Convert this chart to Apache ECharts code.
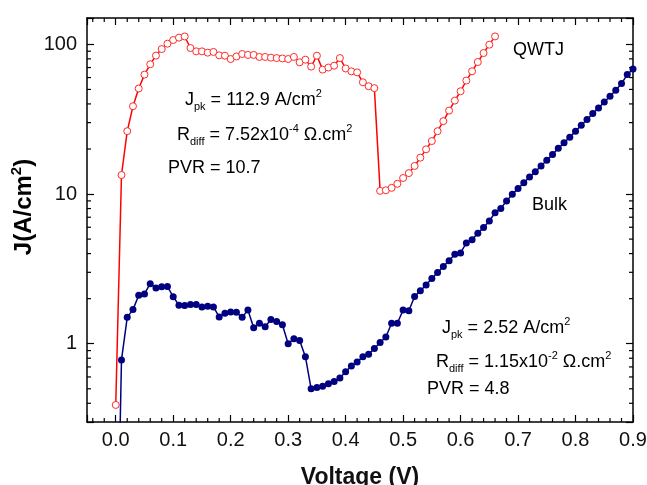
<!DOCTYPE html>
<html>
<head>
<meta charset="utf-8">
<script src="https://cdn.jsdelivr.net/npm/echarts@6/dist/echarts.min.js"></script>
<style>
  html, body { margin: 0; padding: 0; background: #fff; }
  #chart { width: 647px; height: 485px; }
</style>
</head>
<body>
<div id="chart"></div>
<script>
const voltage = [
  0.00, 0.01, 0.02, 0.03, 0.04, 0.05, 0.06, 0.07, 0.08, 0.09,
  0.10, 0.11, 0.12, 0.13, 0.14, 0.15, 0.16, 0.17, 0.18, 0.19,
  0.20, 0.21, 0.22, 0.23, 0.24, 0.25, 0.26, 0.27, 0.28, 0.29,
  0.30, 0.31, 0.32, 0.33, 0.34, 0.35, 0.36, 0.37, 0.38, 0.39,
  0.40, 0.41, 0.42, 0.43, 0.44, 0.45, 0.46, 0.47, 0.48, 0.49,
  0.50, 0.51, 0.52, 0.53, 0.54, 0.55, 0.56, 0.57, 0.58, 0.59,
  0.60, 0.61, 0.62, 0.63, 0.64, 0.65, 0.66, 0.67, 0.68, 0.69,
  0.70, 0.71, 0.72, 0.73, 0.74, 0.75, 0.76, 0.77, 0.78, 0.79,
  0.80, 0.81, 0.82, 0.83, 0.84, 0.85, 0.86, 0.87, 0.88, 0.89,
  0.90
];

// QWTJ current density (A/cm2), 0.00 .. 0.66 V
const qwtj = [
  0.39, 13.4, 26.3, 38.6, 50.7, 62.8, 73.6, 84.1, 93.0, 101,
  106.9, 110.9, 112.9, 94.5, 89.8, 89.8, 88, 89, 84.5, 84,
  79.8, 83, 86.2, 85, 85, 82.4, 82.4, 81.5, 81, 80.5,
  79.8, 82.4, 75.9, 79, 71, 84, 67.8, 70, 72, 81,
  69, 66, 65, 55.8, 52.5, 51, 10.5, 10.6, 11.0, 11.7,
  12.8, 13.8, 15.4, 17.5, 19.9, 22.6, 26.3, 30.7, 36.1, 42.1,
  48.6, 57.3, 66.1, 76.2, 87.5, 99.5, 113
];

// Bulk current density (A/cm2), 0.00 .. 0.90 V
const bulk = [
  0.01, 0.78, 1.50, 1.69, 2.11, 2.15, 2.52, 2.36, 2.40, 2.41,
  2.06, 1.81, 1.80, 1.83, 1.83, 1.76, 1.78, 1.76, 1.51, 1.60,
  1.63, 1.62, 1.50, 1.68, 1.28, 1.37, 1.30, 1.45, 1.41, 1.34,
  1.00, 1.08, 1.05, 0.82, 0.50, 0.51, 0.52, 0.54, 0.56, 0.59,
  0.65, 0.71, 0.755, 0.82, 0.85, 0.93, 1.02, 1.11, 1.37, 1.37,
  1.68, 1.66, 2.07, 2.26, 2.47, 2.73, 2.99, 3.28, 3.59, 3.96,
  4.04, 4.71, 4.96, 5.47, 5.97, 6.61, 7.5, 8.0, 9.0, 9.95,
  10.9, 11.9, 13.0, 14.1, 15.4, 16.8, 18.4, 20.2, 22.0, 24.0,
  26.3, 28.8, 31.5, 34.5, 37.6, 41.2, 45.0, 49.3, 54.7, 62.8,
  68.4
];

const xMin = -0.05, xMax = 0.9;
const yMin = 0.3, yMax = 150;
const yMinorTicks = [0.4, 0.5, 0.6, 0.7, 0.8, 0.9, 2, 3, 4, 5, 6, 7, 8, 9,
  20, 30, 40, 50, 60, 70, 80, 90];
const xMinorTicks = [-0.04, -0.02, 0.02, 0.04, 0.06, 0.08, 0.12, 0.14, 0.16, 0.18,
  0.22, 0.24, 0.26, 0.28, 0.32, 0.34, 0.36, 0.38, 0.42, 0.44, 0.46, 0.48,
  0.52, 0.54, 0.56, 0.58, 0.62, 0.64, 0.66, 0.68, 0.72, 0.74, 0.76, 0.78,
  0.82, 0.84, 0.86, 0.88];

const font = "'Liberation Sans', Arial, sans-serif";
const minorLen = 4;

const chart = echarts.init(document.getElementById("chart"));

const pair = (arr) => arr.map((v, i) => [voltage[i], v]);

const axisCommon = {
  axisLine: { show: true, onZero: false, lineStyle: { color: "#000", width: 1.5 } },
  axisTick: { show: true, inside: true, length: 7, lineStyle: { color: "#000", width: 1.2 } },
  splitLine: { show: false },
};

const rich = {
  m: { fontSize: 18, fontFamily: font, color: "#111", lineHeight: 24 },
  sub: { fontSize: 11, fontFamily: font, color: "#111", lineHeight: 10, verticalAlign: "bottom" },
  sup: { fontSize: 11, fontFamily: font, color: "#111", lineHeight: 16, verticalAlign: "top" },
};

function note(left, top, text) {
  return { type: "text", left, top, style: { text, rich, font: "18px " + font } };
}

const option = {
  animation: false,
  backgroundColor: "#fff",
  grid: { left: 87, right: 14, top: 18, bottom: 63, outerBoundsMode: "none", containLabel: false },
  xAxis: [
    {
      ...axisCommon,
      type: "value",
      min: xMin,
      max: xMax,
      splitNumber: 10,
      position: "bottom",
      name: "Voltage (V)",
      nameLocation: "middle",
      nameGap: 44,
      nameTextStyle: { fontSize: 23, fontWeight: "bold", fontFamily: font, color: "#111" },
      axisLabel: {
        fontSize: 20,
        fontFamily: font,
        color: "#111",
        margin: 8,
        formatter: (v) => (Math.abs(v * 10 - Math.round(v * 10)) < 1e-6 ? v.toFixed(1) : ""),
      },
    },
    {
      ...axisCommon,
      type: "value",
      min: xMin,
      max: xMax,
      splitNumber: 10,
      position: "top",
      axisLabel: { show: false },
    },
  ],
  yAxis: [
    {
      ...axisCommon,
      type: "log",
      logBase: 10,
      min: yMin,
      max: yMax,
      position: "left",
      axisLabel: {
        fontSize: 20,
        fontFamily: font,
        color: "#111",
        margin: 10,
        formatter: (v) => {
          const l = Math.log10(v);
          return Math.abs(l - Math.round(l)) < 1e-6 ? String(Math.round(v)) : "";
        },
      },
    },
    {
      ...axisCommon,
      type: "log",
      logBase: 10,
      min: yMin,
      max: yMax,
      position: "right",
      axisLabel: { show: false },
    },
  ],
  series: [
    {
      name: "QWTJ",
      type: "line",
      data: pair(qwtj),
      symbol: "circle",
      symbolSize: 7,
      lineStyle: { color: "#ff0000", width: 1.5 },
      itemStyle: { color: "#fff", borderColor: "#ff2a2a", borderWidth: 1 },
      z: 3,
    },
    {
      name: "Bulk",
      type: "line",
      data: pair(bulk),
      symbol: "circle",
      symbolSize: 7,
      lineStyle: { color: "#000080", width: 1.5 },
      itemStyle: { color: "#000080" },
      z: 2,
    },
    {
      type: "custom",
      silent: true,
      clip: false,
      data: yMinorTicks.map((v) => [xMin, v]),
      renderItem: (params, api) => {
        const l = api.coord([xMin, api.value(1)]);
        const r = api.coord([xMax, api.value(1)]);
        const style = { stroke: "#000", lineWidth: 1.2 };
        return {
          type: "group",
          children: [
            { type: "line", shape: { x1: l[0], y1: l[1], x2: l[0] + minorLen, y2: l[1] }, style },
            { type: "line", shape: { x1: r[0], y1: r[1], x2: r[0] - minorLen, y2: r[1] }, style },
          ],
        };
      },
    },
    {
      type: "custom",
      silent: true,
      clip: false,
      data: xMinorTicks.map((v) => [v, yMin]),
      renderItem: (params, api) => {
        const b = api.coord([api.value(0), yMin]);
        const t = api.coord([api.value(0), yMax]);
        const style = { stroke: "#000", lineWidth: 1.2 };
        return {
          type: "group",
          children: [
            { type: "line", shape: { x1: b[0], y1: b[1], x2: b[0], y2: b[1] - minorLen }, style },
            { type: "line", shape: { x1: t[0], y1: t[1], x2: t[0], y2: t[1] + minorLen }, style },
          ],
        };
      },
    },
  ],
  graphic: [
    {
      type: "text",
      x: 24,
      y: 207,
      rotation: Math.PI / 2,
      style: {
        text: "{a|J(A/cm}{s|2}{a|)}",
        align: "center",
        verticalAlign: "middle",
        rich: {
          a: { fontSize: 24, fontWeight: "bold", fontFamily: font, color: "#111", lineHeight: 30 },
          s: { fontSize: 15, fontWeight: "bold", fontFamily: font, color: "#111", lineHeight: 20, verticalAlign: "top" },
        },
      },
    },
    note(185, 88, "{m|J}{sub|pk}{m| = 112.9 A/cm}{sup|2}"),
    note(177, 123, "{m|R}{sub|diff}{m| = 7.52x10}{sup|-4}{m| Ω.cm}{sup|2}"),
    note(168, 159, "{m|PVR = 10.7}"),
    note(513, 41, "{m|QWTJ}"),
    note(532, 196, "{m|Bulk}"),
    note(442, 316, "{m|J}{sub|pk}{m| = 2.52 A/cm}{sup|2}"),
    note(436, 350, "{m|R}{sub|diff}{m| = 1.15x10}{sup|-2}{m| Ω.cm}{sup|2}"),
    note(427, 380, "{m|PVR = 4.8}"),
  ],
};

chart.setOption(option);
</script>
</body>
</html>
